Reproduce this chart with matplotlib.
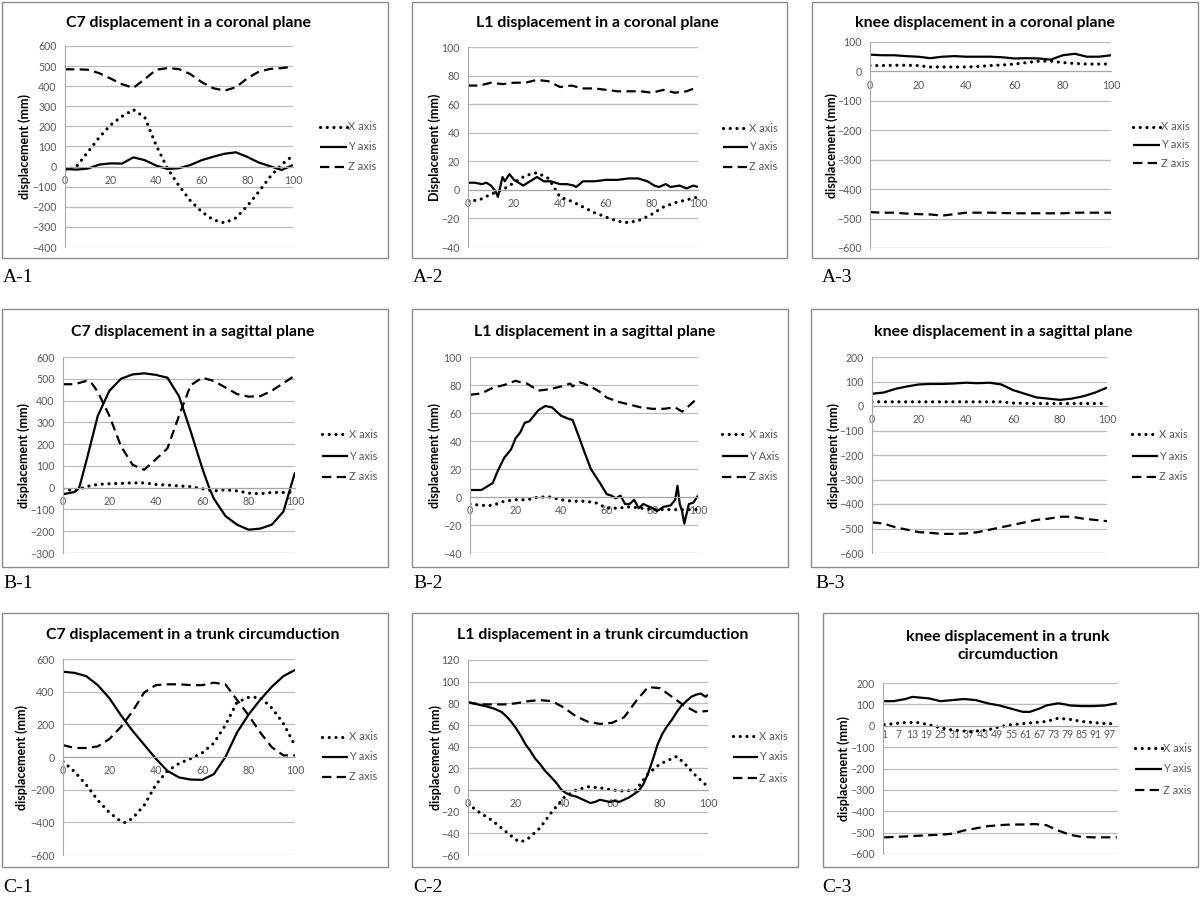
"""
Nine-panel figure: C7 / L1 / knee displacement (X, Y, Z axes) in the
coronal plane, sagittal plane and trunk circumduction, in Excel style.
"""
import matplotlib
matplotlib.use("Agg")
import matplotlib.pyplot as plt
from matplotlib.lines import Line2D
from matplotlib.patches import Rectangle


W, H = 1200, 899
FONT = "Lato"

# ---- data (percent of movement cycle -> displacement, mm) -------------------
PCT = [0, 5, 10, 15, 20, 25, 30, 35, 40, 45, 50, 55, 60, 65, 70, 75, 80, 85, 90, 95, 100]

# A-1  C7 coronal
a1_x = [-20, 0, 72, 145, 207, 250, 283, 245, 105, -10, -95, -170, -225, -265, -280, -255, -195, -125, -50, 10, 55]
a1_y = [-12, -15, -10, 10, 16, 15, 46, 32, 5, -12, -8, 8, 32, 49, 64, 71, 48, 20, 2, -17, 8]
a1_z = [484, 484, 482, 465, 438, 410, 392, 435, 482, 490, 485, 460, 420, 390, 378, 395, 440, 472, 486, 490, 497]

# A-2  L1 coronal
a2_x = [-8, -7, -3, 0, 5, 10, 12, 8, -5, -8, -12, -16, -19, -22, -23, -21, -17, -12, -9, -7, -5]
a2_y_t = [0, 3, 6, 8, 10, 12, 13, 14, 15, 16, 18, 20, 22, 24, 26, 28, 30, 33, 36, 40,
          43, 46, 47, 50, 55, 60, 65, 70, 74, 78, 81, 83, 86, 88, 92, 95, 98, 100]
a2_y = [5, 5, 4, 5, 3, -1, -5, 2, 9, 6, 11, 7, 5, 3, 5, 7, 9, 6, 6, 4,
        4, 3, 2, 6, 6, 7, 7, 8, 8, 6, 3, 2, 4, 2, 3, 1, 3, 2]
a2_z = [73, 73, 75, 74, 75, 75, 77, 76, 72, 73, 71, 71, 70, 69, 69, 69, 68, 70, 68, 69, 72]

# A-3  knee coronal
a3_x = [20, 20, 21, 21, 20, 15, 15, 15, 15, 17, 20, 22, 25, 30, 35, 35, 30, 27, 25, 25, 25]
a3_y = [57, 55, 55, 52, 50, 45, 50, 52, 50, 50, 50, 48, 44, 45, 44, 40, 55, 60, 50, 50, 55]
a3_z = [-478, -480, -480, -483, -485, -486, -490, -485, -480, -480, -480, -481, -482, -482,
        -482, -482, -482, -480, -480, -480, -480]

# B-1  C7 sagittal
b1_x = [-5, -15, 5, 15, 18, 20, 22, 22, 15, 12, 8, 5, -5, -15, -10, -15, -25, -28, -22, -22, -20]
b1_y_t = [0, 5, 7, 10, 15, 20, 25, 30, 35, 40, 45, 50, 55, 60, 63, 65, 70, 75, 80, 85, 90, 95, 100]
b1_y = [-30, -20, 0, 120, 330, 445, 500, 520, 525, 518, 505, 420, 260, 90, 0, -50, -130, -170,
        -193, -188, -170, -110, 70]
b1_z_t = [0, 5, 10, 12, 15, 20, 25, 30, 35, 40, 45, 50, 55, 60, 65, 70, 75, 80, 85, 90, 95, 100]
b1_z = [475, 475, 490, 485, 440, 330, 190, 105, 82, 130, 180, 330, 470, 505, 490, 460, 430,
        418, 420, 445, 480, 515]

# B-2  L1 sagittal
b2_x = [-5, -6, -6, -3, -2, -2, 0, 0, -2, -3, -3, -4, -8, -8, -7, -8, -9, -9, -9, -9, -9]
b2_y_t = [0, 3, 5, 8, 10, 12, 15, 18, 20, 22, 24, 26, 28, 30, 33, 36, 40, 43, 45, 48,
          50, 53, 55, 57, 60, 62, 64, 66, 68, 70, 72, 74, 76, 80, 82, 85, 88, 90, 91, 92,
          93, 94, 95, 96, 98, 100]
b2_y = [5, 5, 5, 8, 10, 18, 28, 34, 42, 46, 53, 54, 58, 62, 65, 64, 58, 56, 55, 42,
        33, 20, 15, 10, 2, 1, -1, 1, -5, -5, -2, -8, -5, -8, -10, -7, -6, -2, 8, -5,
        -10, -19, -12, -5, -4, 1]
b2_z_t = [0, 5, 10, 15, 20, 22, 25, 28, 30, 35, 40, 44, 45, 48, 50, 55, 58, 60, 65, 70,
          75, 80, 85, 90, 93, 96, 100]
b2_z = [73, 74, 78, 80, 83, 82, 81, 78, 76, 77, 79, 81, 79, 82, 81, 77, 74, 71, 68, 66,
        64, 63, 63, 64, 61, 65, 71]

# B-3  knee sagittal
b3_x = [17, 17, 17, 17, 17, 17, 17, 17, 17, 17, 17, 17, 12, 11, 10, 10, 10, 10, 10, 10, 10]
b3_y = [50, 55, 70, 80, 88, 90, 90, 92, 95, 93, 95, 88, 65, 50, 35, 30, 25, 30, 40, 55, 75]
b3_z = [-475, -480, -495, -505, -515, -518, -522, -522, -520, -515, -505, -495, -485, -475,
        -465, -460, -452, -452, -460, -465, -470]

# C-1  C7 trunk circumduction
c1_x_t = [0, 5, 10, 15, 20, 25, 27, 30, 35, 40, 45, 50, 55, 60, 65, 70, 75, 80, 85, 90, 95, 100]
c1_x = [-28, -90, -170, -265, -340, -395, -402, -375, -295, -170, -85, -40, -10, 25, 85, 195,
        335, 365, 365, 300, 205, 70]
c1_y = [522, 515, 495, 440, 360, 255, 160, 75, -10, -85, -125, -138, -140, -105, 0, 150, 260,
        350, 430, 495, 533]
c1_z = [73, 55, 55, 65, 110, 185, 280, 395, 440, 445, 445, 440, 440, 455, 445, 350, 255, 150,
        60, 10, 10]

# C-2  L1 trunk circumduction
c2_x_t = [0, 5, 10, 15, 20, 22, 25, 30, 35, 40, 45, 50, 55, 60, 65, 70, 75, 80, 85, 87, 90, 95, 100]
c2_x = [-13, -21, -28, -37, -46, -48, -45, -35, -20, -7, 0, 3, 2, 0, -1, 0, 15, 24, 29, 31, 25, 13, 3]
c2_y_t = [0, 4, 8, 11, 14, 16, 18, 20, 22, 24, 26, 28, 30, 32, 35, 37, 39, 41, 43, 45,
          47, 49, 51, 53, 55, 57, 59, 61, 63, 65, 67, 69, 71, 73, 75, 77, 79, 81, 83, 85,
          87, 89, 91, 93, 95, 97, 99, 100]
c2_y = [81, 79, 77, 75, 72, 68, 63, 57, 50, 42, 36, 29, 24, 18, 11, 6, 0, -3, -5, -6,
        -8, -10, -12, -11, -9, -10, -11, -10, -11, -9, -7, -4, -1, 5, 15, 28, 42, 52, 59, 65,
        72, 78, 82, 86, 88, 89, 86, 88]
c2_z = [81, 79, 79, 79, 80, 82, 83, 82, 76, 68, 63, 61, 62, 67, 82, 95, 94, 86, 78, 72, 73]

# C-3  knee trunk circumduction (category axis 1..100)
c3_cats = list(range(1, 101))
c3_x_t = [1, 5, 10, 15, 20, 25, 30, 35, 37, 40, 45, 50, 55, 60, 65, 70, 75, 80, 85, 90, 95, 100]
c3_x = [5, 10, 15, 15, 5, -10, -20, -25, -30, -25, -20, -5, 5, 10, 15, 20, 35, 30, 20, 15, 10, 10]
c3_y_t = [1, 5, 10, 13, 20, 25, 30, 35, 40, 45, 50, 55, 60, 63, 67, 70, 75, 78, 80, 85, 90, 95, 100]
c3_y = [115, 115, 125, 135, 128, 115, 120, 125, 120, 105, 95, 80, 65, 65, 80, 95, 105, 100, 95,
        92, 92, 95, 105]
c3_z_t = [1, 10, 20, 25, 30, 35, 40, 45, 50, 55, 60, 65, 70, 75, 80, 85, 90, 100]
c3_z = [-522, -518, -512, -510, -505, -490, -480, -470, -465, -462, -462, -460, -465, -490,
        -510, -520, -522, -522]
c3_ticks = [1, 7, 13, 19, 25, 31, 37, 43, 49, 55, 61, 67, 73, 79, 85, 91, 97]

LEGEND = ["X axis", "Y axis", "Z axis"]
LEGEND_B2 = ["X axis", "Y Axis", "Z axis"]


STYLES = {
    "X": dict(linestyle=(0, (0.01, 2.1)), dash_capstyle="round", lw=2.3),
    "Y": dict(linestyle="-", lw=1.6, solid_capstyle="butt"),
    "Z": dict(linestyle=(0, (4.2, 2.4)), dash_capstyle="butt", lw=1.6),
}


def fx(px):
    return px / W


def fy(py):
    return 1 - py / H


def draw_panel(fig, p):
    bx0, by0, bx1, by1 = p["box"]
    fig.add_artist(Rectangle((fx(bx0), fy(by1)), (bx1 - bx0) / W, (by1 - by0) / H,
                             transform=fig.transFigure, fill=False,
                             edgecolor="#8c8c8c", lw=1.0))

    px0, px1, pt, pb = p["plot"]
    ax = fig.add_axes([fx(px0), fy(pb), (px1 - px0) / W, (pb - pt) / H])
    ax.set_facecolor("none")
    for key, (t, v) in zip("XYZ", p["series"]):
        ax.plot(t, v, color="black", **STYLES[key])

    ymin, ymax, ystep = p["ylim"]
    ax.set_ylim(ymin, ymax)
    ax.set_yticks(list(range(ymin, ymax + 1, ystep)))
    ax.set_xlim(*p["xlim"])
    ax.set_xticks(p["xticks"])
    ax.set_xticklabels([str(v) for v in p["xticks"]], rotation=p.get("xrot", 0),
                       va="top", ha="center")
    ax.yaxis.grid(True, color="#bdbdbd", lw=0.9)
    ax.set_axisbelow(True)
    for s in ("top", "right"):
        ax.spines[s].set_visible(False)
    ax.spines["left"].set_color("#a6a6a6")
    ax.spines["bottom"].set_position(("data", 0))
    ax.spines["bottom"].set_color("#a6a6a6")
    ax.tick_params(axis="both", length=0, labelsize=7.6, labelcolor="#595959")
    ax.tick_params(axis="y", pad=6)
    ax.tick_params(axis="x", pad=p.get("xpad", 6))
    for lab in ax.get_xticklabels() + ax.get_yticklabels():
        lab.set_fontfamily(FONT)

    tx, ty = p["title_pos"]
    fig.text(fx(tx), fy(ty), p["title"], ha="center", va="center", fontsize=11.4,
             fontweight="bold", family=FONT, linespacing=1.3)
    fig.text(fx(p["ylabel_x"]), fy((pt + pb) / 2), p["ylabel"], rotation=90,
             ha="center", va="center", fontsize=9, fontweight="bold", family=FONT)

    lx0, lx1, lys = p["legend"]
    for key, ly, name in zip("XYZ", lys, p["names"]):
        fig.add_artist(Line2D([fx(lx0), fx(lx1)], [fy(ly), fy(ly)],
                              transform=fig.transFigure, color="black", **STYLES[key]))
        fig.text(fx(lx1 + 1), fy(ly), name, ha="left", va="center", fontsize=8,
                 color="#595959", family=FONT)

    lbx, lby = p["label_pos"]
    fig.text(fx(lbx), fy(lby), p["label"], ha="left", va="center", fontsize=14,
             family="Liberation Serif")


PANELS = [
    dict(label="A-1", box=(2, 2, 388, 258), plot=(65, 293, 46, 247), ylim=(-400, 600, 100),
         series=[(PCT, a1_x), (PCT, a1_y), (PCT, a1_z)],
         title="C7 displacement in a coronal plane", title_pos=(188, 23),
         ylabel="displacement (mm)", ylabel_x=25, legend=(320, 347, (127, 147, 167)),
         names=LEGEND, label_pos=(3, 277)),
    dict(label="A-2", box=(412, 2, 787, 258), plot=(468, 698, 47, 247), ylim=(-40, 100, 20),
         series=[(PCT, a2_x), (a2_y_t, a2_y), (PCT, a2_z)],
         title="L1 displacement in a coronal plane", title_pos=(597, 23),
         ylabel="Displacement (mm)", ylabel_x=435, legend=(723, 748, (128, 147, 167)),
         names=LEGEND, label_pos=(413, 277)),
    dict(label="A-3", box=(812, 2, 1198, 258), plot=(870, 1111, 42, 248), ylim=(-600, 100, 100),
         series=[(PCT, a3_x), (PCT, a3_y), (PCT, a3_z)],
         title="knee displacement in a coronal plane", title_pos=(985, 23),
         ylabel="displacement (mm)", ylabel_x=832, legend=(1133, 1160, (127, 145, 163)),
         names=LEGEND, label_pos=(822, 277)),
    dict(label="B-1", box=(2, 309, 388, 567), plot=(63, 295, 357, 553), ylim=(-300, 600, 100),
         series=[(PCT, b1_x), (b1_y_t, b1_y), (b1_z_t, b1_z)],
         title="C7 displacement in a sagittal plane", title_pos=(193, 332),
         ylabel="displacement (mm)", ylabel_x=24, legend=(322, 348, (434, 456, 477)),
         names=LEGEND, label_pos=(3, 583)),
    dict(label="B-2", box=(412, 309, 788, 567), plot=(470, 698, 357, 553), ylim=(-40, 100, 20),
         series=[(PCT, b2_x), (b2_y_t, b2_y), (b2_z_t, b2_z)],
         title="L1 displacement in a sagittal plane", title_pos=(595, 332),
         ylabel="displacement (mm)", ylabel_x=435, legend=(722, 748, (434, 456, 477)),
         names=LEGEND_B2, label_pos=(413, 583)),
    dict(label="B-3", box=(811, 309, 1198, 567), plot=(872, 1107, 357, 553), ylim=(-600, 200, 100),
         series=[(PCT, b3_x), (PCT, b3_y), (PCT, b3_z)],
         title="knee displacement in a sagittal plane", title_pos=(1003, 332),
         ylabel="displacement (mm)", ylabel_x=834, legend=(1132, 1158, (434, 456, 477)),
         names=LEGEND, label_pos=(815, 583)),
    dict(label="C-1", box=(2, 613, 388, 867), plot=(63, 295, 659, 855), ylim=(-600, 600, 200),
         series=[(c1_x_t, c1_x), (PCT, c1_y), (PCT, c1_z)],
         title="C7 displacement in a trunk circumduction", title_pos=(193, 635),
         ylabel="displacement (mm)", ylabel_x=22, legend=(322, 348, (737, 757, 777)),
         names=LEGEND, label_pos=(3, 887)),
    dict(label="C-2", box=(412, 613, 798, 867), plot=(468, 708, 660, 855), ylim=(-60, 120, 20),
         series=[(c2_x_t, c2_x), (c2_y_t, c2_y), (PCT, c2_z)],
         title="L1 displacement in a trunk circumduction", title_pos=(603, 635),
         ylabel="displacement (mm)", ylabel_x=436, legend=(733, 758, (736, 757, 778)),
         names=LEGEND, label_pos=(413, 887)),
    dict(label="C-3", box=(823, 613, 1198, 867), plot=(883, 1118, 683, 854), ylim=(-600, 200, 100),
         series=[(c3_x_t, c3_x), (c3_y_t, c3_y), (c3_z_t, c3_z)],
         title="knee displacement in a trunk\ncircumduction", title_pos=(1008, 646),
         ylabel="displacement (mm)", ylabel_x=844, legend=(1135, 1162, (748, 769, 790)),
         names=LEGEND, label_pos=(822, 887),
         xlim=(c3_cats[0] - 0.5, c3_cats[-1] + 0.5), xticks=c3_ticks, xrot=270, xpad=2),
]


def main():
    fig = plt.figure(figsize=(W / 100, H / 100), dpi=100)
    fig.patch.set_facecolor("white")
    for p in PANELS:
        p.setdefault("xlim", (0, 100))
        p.setdefault("xticks", [0, 20, 40, 60, 80, 100])
        draw_panel(fig, p)
    fig.savefig("out.png", dpi=100)
    plt.close(fig)


if __name__ == "__main__":
    main()
